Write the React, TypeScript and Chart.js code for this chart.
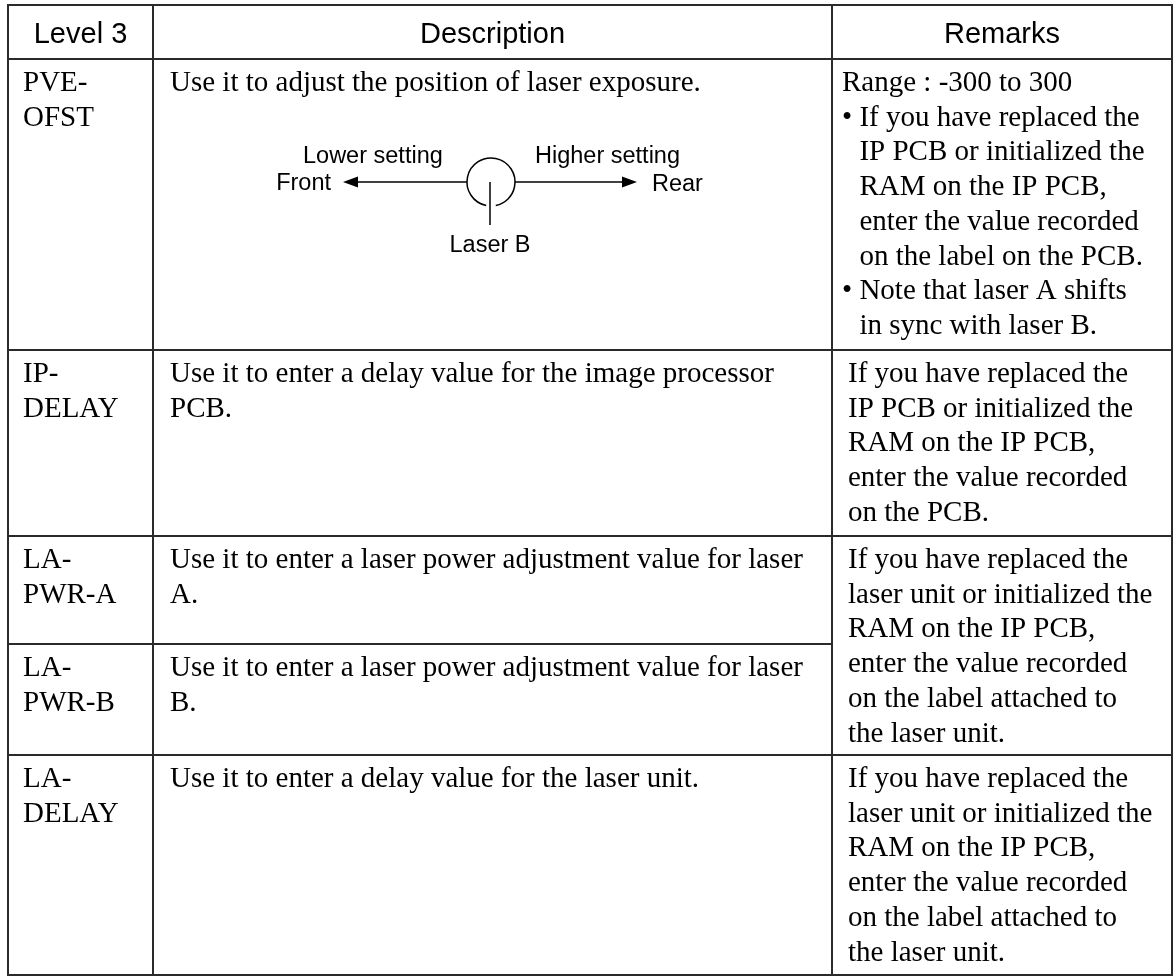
import React, { useEffect, useRef } from "react";
import { Chart, registerables } from "chart.js";

Chart.register(...registerables);

// ---------- data ----------
const headers = ["Level 3", "Description", "Remarks"];

const level3Names = [
  ["PVE-", "OFST"],
  ["IP-", "DELAY"],
  ["LA-", "PWR-A"],
  ["LA-", "PWR-B"],
  ["LA-", "DELAY"],
];

const descriptions = [
  ["Use it to adjust the position of laser exposure."],
  ["Use it to enter a delay value for the image processor", "PCB."],
  ["Use it to enter a laser power adjustment value for laser", "A."],
  ["Use it to enter a laser power adjustment value for laser", "B."],
  ["Use it to enter a delay value for the laser unit."],
];

// each remark: first row index, last row index, lines (lines starting with "• " are bullets)
const remarkRows = [0, 1, 2, 4];
const remarkRowEnds = [0, 1, 3, 4];
const remarks = [
  [
    "Range : -300 to 300",
    "• If you have replaced the",
    "IP PCB or initialized the",
    "RAM on the IP PCB,",
    "enter the value recorded",
    "on the label on the PCB.",
    "• Note that laser A shifts",
    "in sync with laser B.",
  ],
  [
    "If you have replaced the",
    "IP PCB or initialized the",
    "RAM on the IP PCB,",
    "enter the value recorded",
    "on the PCB.",
  ],
  [
    "If you have replaced the",
    "laser unit or initialized the",
    "RAM on the IP PCB,",
    "enter the value recorded",
    "on the label attached to",
    "the laser unit.",
  ],
  [
    "If you have replaced the",
    "laser unit or initialized the",
    "RAM on the IP PCB,",
    "enter the value recorded",
    "on the label attached to",
    "the laser unit.",
  ],
];

const diagramLabels = ["Lower setting", "Front", "Higher setting", "Rear", "Laser B"];

// ---------- layout ----------
const W = 1173;
const H = 976;
const COL_X = [8, 153, 832, 1172];
const ROW_Y = [5, 59, 350, 536, 644, 755, 975];
const HEADER_BASE = 43;
const FIRST_BASE = 32;
const LINE_H = 34.7;
const PAD_L1 = 15;
const PAD_L2 = 17;
const PAD_L3 = [10, 16, 16, 16];
const SERIF = "29px 'Liberation Serif', 'Times New Roman', serif";
const SANS_HEAD = "29px 'Liberation Sans', Arial, sans-serif";
const SANS_DIAG = "23.5px 'Liberation Sans', Arial, sans-serif";
const LINE_COLOR = "#2a2a2a";

const tablePlugin = {
  id: "tablePlugin",
  afterDraw(chart: any) {
    const ctx = chart.ctx as CanvasRenderingContext2D;
    const sx = chart.scales.x;
    const sy = chart.scales.y;
    const px = (v: number) => sx.getPixelForValue(v);
    const py = (v: number) => sy.getPixelForValue(v);

    ctx.save();
    ctx.fillStyle = "#ffffff";
    ctx.fillRect(px(0), py(0), px(W) - px(0), py(H) - py(0));

    // grid lines
    ctx.strokeStyle = LINE_COLOR;
    ctx.lineWidth = 2;
    const hline = (y: number, x0: number, x1: number) => {
      ctx.beginPath();
      ctx.moveTo(px(x0) - 1, py(y));
      ctx.lineTo(px(x1) + 1, py(y));
      ctx.stroke();
    };
    const vline = (x: number, y0: number, y1: number) => {
      ctx.beginPath();
      ctx.moveTo(px(x), py(y0) - 1);
      ctx.lineTo(px(x), py(y1) + 1);
      ctx.stroke();
    };
    // outer & header
    hline(ROW_Y[0], COL_X[0], COL_X[3]);
    hline(ROW_Y[1], COL_X[0], COL_X[3]);
    hline(ROW_Y[ROW_Y.length - 1], COL_X[0], COL_X[3]);
    COL_X.forEach((x) => vline(x, ROW_Y[0], ROW_Y[ROW_Y.length - 1]));
    // body row separators (cols 1-2 always)
    for (let r = 1; r < level3Names.length; r++) {
      const y = ROW_Y[r + 1];
      hline(y, COL_X[0], COL_X[2]);
    }
    // remarks separators
    for (let i = 1; i < remarkRows.length; i++) {
      const y = ROW_Y[remarkRows[i] + 1];
      hline(y, COL_X[2], COL_X[3]);
    }

    // header text
    ctx.fillStyle = "#000000";
    ctx.textBaseline = "alphabetic";
    ctx.font = SANS_HEAD;
    ctx.textAlign = "center";
    headers.forEach((h, i) => {
      ctx.fillText(h, (px(COL_X[i]) + px(COL_X[i + 1])) / 2, py(HEADER_BASE));
    });

    // body text
    ctx.font = SERIF;
    ctx.textAlign = "left";
    level3Names.forEach((lines, r) => {
      const top = ROW_Y[r + 1];
      lines.forEach((t, k) => {
        ctx.fillText(t, px(COL_X[0] + PAD_L1), py(top + FIRST_BASE + k * LINE_H));
      });
    });
    descriptions.forEach((lines, r) => {
      const top = ROW_Y[r + 1];
      lines.forEach((t, k) => {
        ctx.fillText(t, px(COL_X[1] + PAD_L2), py(top + FIRST_BASE + k * LINE_H));
      });
    });
    remarks.forEach((lines, i) => {
      const top = ROW_Y[remarkRows[i] + 1];
      const x0 = px(COL_X[2] + PAD_L3[i]);
      const hang = ctx.measureText("• ").width;
      const hasBullets = lines.some((l) => l.startsWith("• "));
      let inBullet = false;
      lines.forEach((t, k) => {
        const y = py(top + FIRST_BASE + k * LINE_H);
        if (t.startsWith("• ")) {
          inBullet = true;
          ctx.fillText(t, x0, y);
        } else {
          ctx.fillText(t, hasBullets && inBullet ? x0 + hang : x0, y);
        }
      });
    });

    // diagram
    ctx.strokeStyle = "#000000";
    ctx.fillStyle = "#000000";
    ctx.lineWidth = 1.5;
    const cx = 491, cy = 182, r = 24;
    ctx.beginPath();
    const gap = 0.2;
    ctx.arc(px(cx), py(cy), r, Math.PI / 2 + gap, Math.PI / 2 - gap + Math.PI * 2);
    ctx.stroke();
    // vertical pointer
    ctx.beginPath();
    ctx.moveTo(px(490), py(182));
    ctx.lineTo(px(490), py(225));
    ctx.stroke();
    // left arrow
    ctx.beginPath();
    ctx.moveTo(px(cx - r), py(cy));
    ctx.lineTo(px(356), py(cy));
    ctx.stroke();
    ctx.beginPath();
    ctx.moveTo(px(343), py(cy));
    ctx.lineTo(px(358), py(cy - 5.5));
    ctx.lineTo(px(358), py(cy + 5.5));
    ctx.closePath();
    ctx.fill();
    // right arrow
    ctx.beginPath();
    ctx.moveTo(px(cx + r), py(cy));
    ctx.lineTo(px(624), py(cy));
    ctx.stroke();
    ctx.beginPath();
    ctx.moveTo(px(637), py(cy));
    ctx.lineTo(px(622), py(cy - 5.5));
    ctx.lineTo(px(622), py(cy + 5.5));
    ctx.closePath();
    ctx.fill();

    ctx.font = SANS_DIAG;
    ctx.textAlign = "left";
    ctx.fillText(diagramLabels[0], px(303), py(163));
    ctx.textAlign = "right";
    ctx.fillText(diagramLabels[1], px(331), py(190));
    ctx.textAlign = "left";
    ctx.fillText(diagramLabels[2], px(535), py(163));
    ctx.fillText(diagramLabels[3], px(652), py(191));
    ctx.textAlign = "center";
    ctx.fillText(diagramLabels[4], px(490), py(252));

    ctx.restore();
  },
};

export default function App() {
  const ref = useRef<HTMLCanvasElement | null>(null);
  useEffect(() => {
    if (!ref.current) return;
    const chart = new Chart(ref.current, {
      type: "scatter",
      data: { datasets: [{ data: [], pointRadius: 0 }] },
      options: {
        animation: false,
        responsive: false,
        devicePixelRatio: 1,
        layout: { padding: 0 },
        plugins: { legend: { display: false }, tooltip: { enabled: false } },
        events: [],
        scales: {
          x: { type: "linear", min: 0, max: W, display: false },
          y: { type: "linear", min: 0, max: H, reverse: true, display: false },
        },
      },
      plugins: [tablePlugin],
    });
    return () => chart.destroy();
  }, []);
  return (
    <div style={{ position: "absolute", left: 0, top: 0, width: W, height: H, background: "#fff" }}>
      <canvas ref={ref} width={W} height={H} style={{ display: "block" }} />
    </div>
  );
}
